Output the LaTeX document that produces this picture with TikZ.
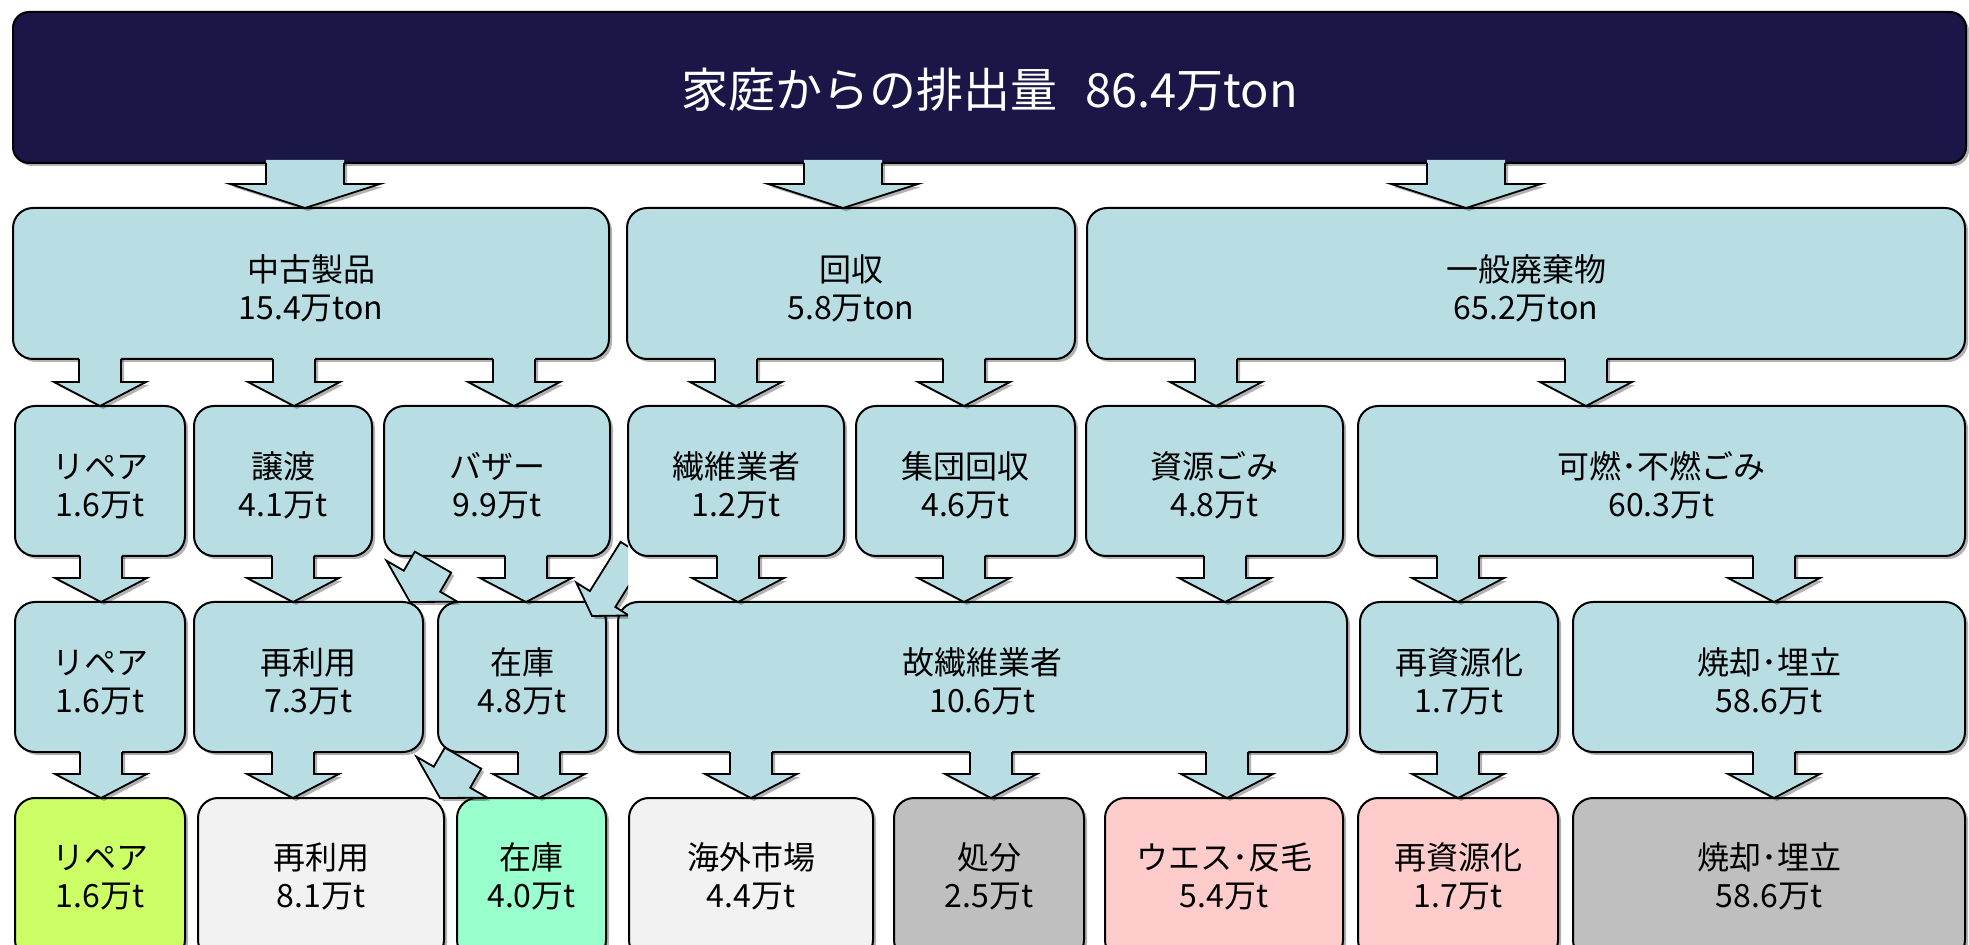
\documentclass[tikz,border=0pt]{standalone}
\usepackage{fontspec}
\setmainfont{Noto Sans CJK JP}
\usetikzlibrary{calc,shadows}
\definecolor{navybox}{HTML}{1A1748}
\definecolor{lblue}{HTML}{B8DEE4}
\definecolor{ygreen}{HTML}{CCFF66}
\definecolor{aquabox}{HTML}{99FFCC}
\definecolor{lgraybox}{HTML}{F2F2F2}
\definecolor{mgraybox}{HTML}{BFBFBF}
\definecolor{pinkbox}{HTML}{FFCCCC}
\tikzset{
  shad/.style={drop shadow={shadow xshift=1.5pt,shadow yshift=-1.5pt,opacity=0.3,fill=black}},
  boxbase/.style={draw=black, line width=1pt, rounded corners=10pt, inner sep=0pt, outer sep=0pt,
    align=center, font=\fontsize{16}{19}\selectfont, shad},
  topbox/.style={boxbase, fill=navybox, rounded corners=8pt, text=white, font=\fontsize{23.5}{28}\selectfont},
  lbox/.style={boxbase, fill=lblue},
  gbox/.style={boxbase, fill=ygreen},
  abox/.style={boxbase, fill=aquabox},
  wbox/.style={boxbase, fill=lgraybox},
  dbox/.style={boxbase, fill=mgraybox},
  pbox/.style={boxbase, fill=pinkbox},
  blkfill/.style={fill=lblue, shad},
  blkline/.style={draw=black, line width=0.9pt, line join=miter},
  blk/.style={draw=black, line width=0.9pt, line join=miter, fill=lblue, shad},
}
\def\tshift{0pt}
% box from (x1,y1) to (x2,y2) in pixel units; text lowered by \tshift
\newcommand\mybox[7]{\node[#6, minimum width={(#4-#2)*0.5pt}, minimum height={(#5-#3)*0.5pt}] (#1) at ({(#2+#4)/2},{(#3+#5)/2})
  {\raisebox{-\tshift}[\height][\depth]{\begin{tabular}{@{}c@{}}#7\end{tabular}}};}
% vertical block arrow: x, from node, to node, stem half width, head half width
\newcommand\blkarrow[5]{%
  \coordinate (s) at (#1,0 |- #2.south);
  \coordinate (t) at (#1,0 |- #3.north);
  \fill[blkfill] ($(s)+(-#4,-3)$) -- ($(t)+(-#4,-24)$) -- ($(t)+(-#5,-24)$) -- (t) -- ($(t)+(#5,-24)$) -- ($(t)+(#4,-24)$) -- ($(s)+(#4,-3)$) -- cycle;
  \draw[blkline] ($(s)+(-#4,0)$) -- ($(t)+(-#4,-24)$) -- ($(t)+(-#5,-24)$) -- (t) -- ($(t)+(#5,-24)$) -- ($(t)+(#4,-24)$) -- ($(s)+(#4,0)$);}
% diagonal block arrow: tip coordinate, rotation, head half, stem half, head length, total length
\newcommand\diagarrow[6]{\draw[blk, shift={#1}, rotate=#2] (0,0) -- (#3,-#5) -- (#4,-#5) -- (#4,-#6) -- (-#4,-#6) -- (-#4,-#5) -- (-#3,-#5) -- cycle;}
\begin{document}
\begin{tikzpicture}[x=0.5pt,y=-0.5pt]
\clip (0,0) rectangle (1969,945);
\fill[white] (0,0) rectangle (1969,945);
% row 1
\def\tshift{4.5pt}
\mybox{top}{13}{12}{1966}{163}{topbox}{家庭からの排出量\hspace{0.6em}86.4万ton}
% row 2
\def\tshift{4.5pt}
\mybox{used}{13}{208}{609}{359}{lbox}{中古製品\\15.4万ton}
\mybox{coll}{627}{208}{1075}{359}{lbox}{回収\\5.8万ton}
\mybox{gen}{1087}{208}{1965}{359}{lbox}{一般廃棄物\\65.2万ton}
% row 3
\mybox{rep3}{15}{406}{185}{556}{lbox}{リペア\\1.6万t}
\mybox{giv3}{194}{406}{372}{556}{lbox}{譲渡\\4.1万t}
\mybox{baz3}{384}{406}{610}{556}{lbox}{バザー\\9.9万t}
\mybox{fib3}{628}{406}{844}{556}{lbox}{繊維業者\\1.2万t}
\mybox{grp3}{856}{406}{1075}{556}{lbox}{集団回収\\4.6万t}
\mybox{res3}{1086}{406}{1343}{556}{lbox}{資源ごみ\\4.8万t}
\mybox{burn3}{1358}{406}{1965}{556}{lbox}{可燃･不燃ごみ\\60.3万t}
% row 4
\mybox{rep4}{15}{602}{185}{752}{lbox}{リペア\\1.6万t}
\mybox{reu4}{194}{602}{423}{752}{lbox}{再利用\\7.3万t}
\mybox{stk4}{438}{602}{606}{752}{lbox}{在庫\\4.8万t}
\mybox{old4}{618}{602}{1347}{752}{lbox}{故繊維業者\\10.6万t}
\mybox{rec4}{1360}{602}{1558}{752}{lbox}{再資源化\\1.7万t}
\mybox{inc4}{1573}{602}{1965}{752}{lbox}{焼却･埋立\\58.6万t}
% row 5
\def\tshift{1pt}
\mybox{rep5}{15}{798}{185}{960}{gbox}{リペア\\1.6万t}
\mybox{reu5}{198}{798}{444}{960}{wbox}{再利用\\8.1万t}
\mybox{stk5}{457}{798}{606}{960}{abox}{在庫\\4.0万t}
\mybox{abr5}{629}{798}{873}{960}{wbox}{海外市場\\4.4万t}
\mybox{dis5}{894}{798}{1084}{960}{dbox}{処分\\2.5万t}
\mybox{rag5}{1105}{798}{1343}{960}{pbox}{ウエス･反毛\\5.4万t}
\mybox{rec5}{1358}{798}{1558}{960}{pbox}{再資源化\\1.7万t}
\mybox{inc5}{1573}{798}{1965}{960}{dbox}{焼却･埋立\\58.6万t}
% arrows row 1 -> 2
\blkarrow{305}{top}{used}{39}{75}
\blkarrow{843}{top}{coll}{39}{75}
\blkarrow{1466}{top}{gen}{39}{75}
% arrows row 2 -> 3
\blkarrow{100}{used}{rep3}{21}{46}
\blkarrow{294}{used}{giv3}{21}{46}
\blkarrow{514}{used}{baz3}{21}{46}
\blkarrow{736}{coll}{fib3}{21}{46}
\blkarrow{964}{coll}{grp3}{21}{46}
\blkarrow{1216}{gen}{res3}{21}{46}
\blkarrow{1586}{gen}{burn3}{21}{46}
% arrows row 3 -> 4
\blkarrow{101}{rep3}{rep4}{21}{46}
\blkarrow{293}{giv3}{reu4}{21}{46}
\blkarrow{526}{baz3}{stk4}{21}{46}
\blkarrow{738}{fib3}{old4}{21}{46}
\blkarrow{964}{grp3}{old4}{21}{46}
\blkarrow{1225}{res3}{old4}{21}{46}
\blkarrow{1458}{burn3}{rec4}{21}{46}
\blkarrow{1774}{burn3}{inc4}{21}{46}
% arrows row 4 -> 5
\blkarrow{101}{rep4}{rep5}{21}{46}
\blkarrow{293}{reu4}{reu5}{21}{46}
\blkarrow{539}{stk4}{stk5}{21}{46}
\blkarrow{751}{old4}{abr5}{21}{46}
\blkarrow{991}{old4}{dis5}{21}{46}
\blkarrow{1227}{old4}{rag5}{21}{46}
\blkarrow{1458}{rec4}{rec5}{21}{46}
\blkarrow{1774}{inc4}{inc5}{21}{46}
% diagonal arrows
\coordinate (d1) at (410,0 |- reu4.north);
\diagarrow{(d1)}{-30}{41}{21}{24}{46}
\coordinate (d2) at (440,0 |- reu5.north);
\diagarrow{(d2)}{-30}{41}{21}{24}{46}
\coordinate (d3) at ($(592,0 |- stk4.north)+(0,14)$);
\begin{scope}
  \clip (0,0) rectangle (628,945);
  \diagarrow{(d3)}{-32}{31}{15}{20}{78}
\end{scope}
\end{tikzpicture}
\end{document}
